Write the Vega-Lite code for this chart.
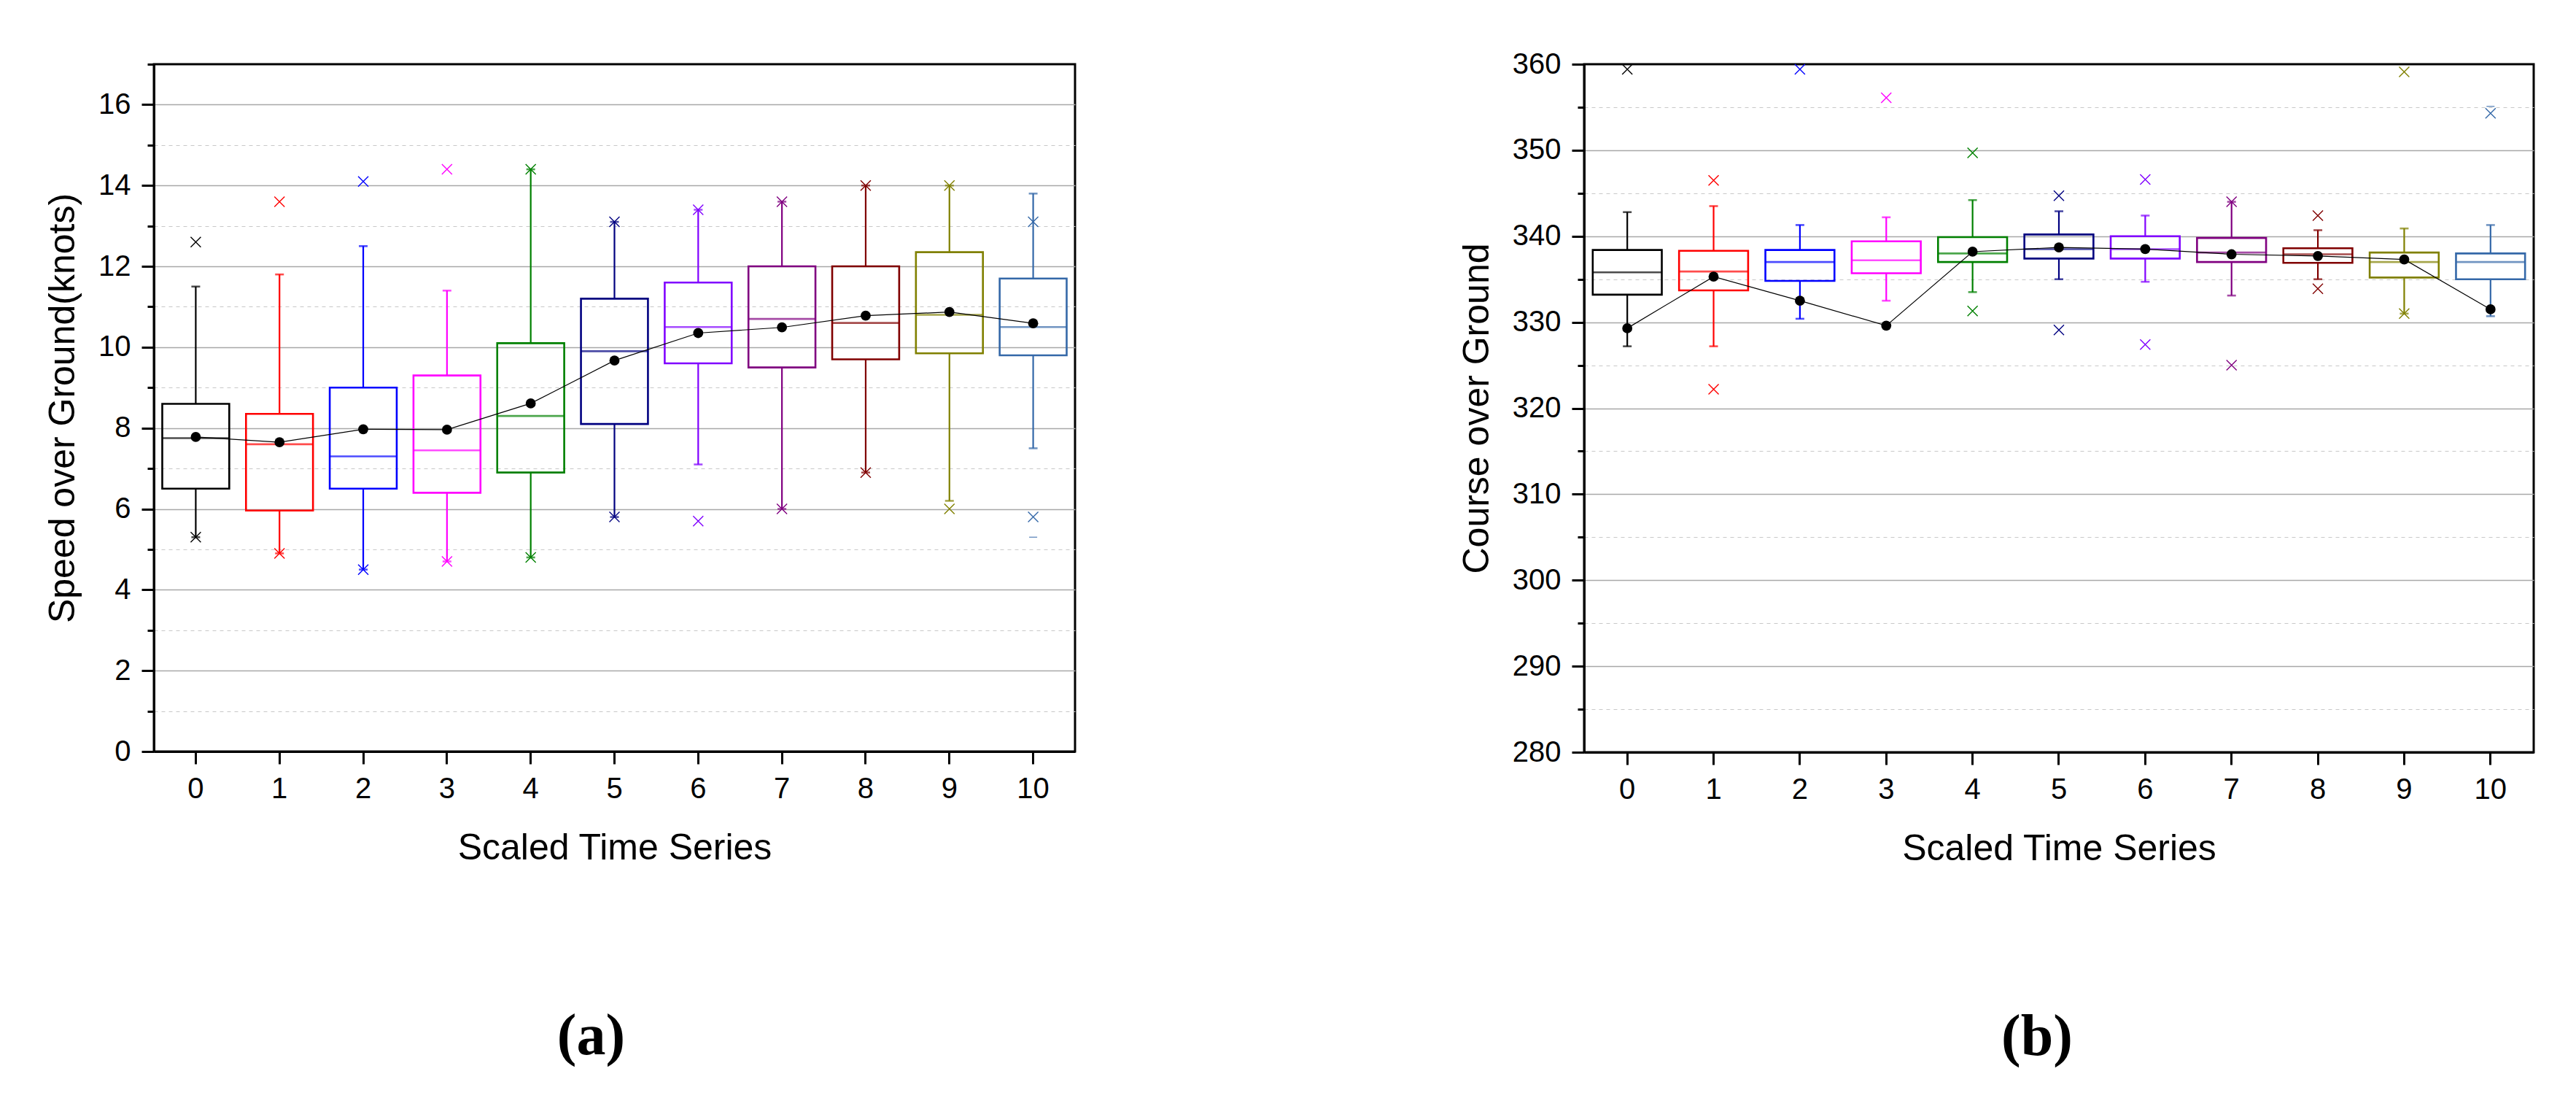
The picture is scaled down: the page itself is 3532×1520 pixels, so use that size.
{
  "$schema": "https://vega.github.io/schema/vega-lite/v6.json",
  "background": "white",
  "padding": {"left": 60, "top": 66, "right": 0, "bottom": 0},
  "spacing": 522,
  "datasets": {
    "speed": [
      {"cat": 0, "lo": 5.3, "q1": 6.5, "med": 7.75, "q3": 8.6, "hi": 11.5, "mean": 7.78},
      {"cat": 1, "lo": 4.9, "q1": 5.96, "med": 7.6, "q3": 8.35, "hi": 11.8, "mean": 7.65},
      {"cat": 2, "lo": 4.5, "q1": 6.5, "med": 7.3, "q3": 9.0, "hi": 12.5, "mean": 7.97},
      {"cat": 3, "lo": 4.7, "q1": 6.4, "med": 7.45, "q3": 9.3, "hi": 11.4, "mean": 7.96},
      {"cat": 4, "lo": 4.8, "q1": 6.9, "med": 8.3, "q3": 10.1, "hi": 14.4, "mean": 8.61},
      {"cat": 5, "lo": 5.8, "q1": 8.1, "med": 9.9, "q3": 11.2, "hi": 13.1, "mean": 9.67},
      {"cat": 6, "lo": 7.1, "q1": 9.6, "med": 10.5, "q3": 11.6, "hi": 13.4, "mean": 10.35},
      {"cat": 7, "lo": 6.0, "q1": 9.5, "med": 10.7, "q3": 12.0, "hi": 13.6, "mean": 10.49},
      {"cat": 8, "lo": 6.9, "q1": 9.7, "med": 10.6, "q3": 12.0, "hi": 14.0, "mean": 10.78},
      {"cat": 9, "lo": 6.2, "q1": 9.85, "med": 10.8, "q3": 12.35, "hi": 14.0, "mean": 10.87},
      {"cat": 10, "lo": 7.5, "q1": 9.8, "med": 10.5, "q3": 11.7, "hi": 13.8, "mean": 10.59}
    ],
    "speedOut": [
      {"cat": 0, "v": 12.6}, {"cat": 0, "v": 5.3},
      {"cat": 1, "v": 13.6}, {"cat": 1, "v": 4.9},
      {"cat": 2, "v": 14.1}, {"cat": 2, "v": 4.5},
      {"cat": 3, "v": 14.4}, {"cat": 3, "v": 4.7},
      {"cat": 4, "v": 14.4}, {"cat": 4, "v": 4.8},
      {"cat": 5, "v": 13.1}, {"cat": 5, "v": 5.8},
      {"cat": 6, "v": 13.4}, {"cat": 6, "v": 5.7},
      {"cat": 7, "v": 13.6}, {"cat": 7, "v": 6.0},
      {"cat": 8, "v": 14.0}, {"cat": 8, "v": 6.9},
      {"cat": 9, "v": 14.0}, {"cat": 9, "v": 6.0},
      {"cat": 10, "v": 13.1}, {"cat": 10, "v": 5.8}
    ],
    "speedDash": [{"cat": 10, "v": 5.3}],
    "course": [
      {"cat": 0, "lo": 327.2, "q1": 333.2, "med": 335.8, "q3": 338.4, "hi": 342.8, "mean": 329.3},
      {"cat": 1, "lo": 327.2, "q1": 333.7, "med": 335.9, "q3": 338.3, "hi": 343.5, "mean": 335.3},
      {"cat": 2, "lo": 330.4, "q1": 334.8, "med": 337.0, "q3": 338.4, "hi": 341.3, "mean": 332.5},
      {"cat": 3, "lo": 332.5, "q1": 335.7, "med": 337.2, "q3": 339.4, "hi": 342.2, "mean": 329.6},
      {"cat": 4, "lo": 333.5, "q1": 337.0, "med": 338.0, "q3": 339.9, "hi": 344.2, "mean": 338.2},
      {"cat": 5, "lo": 335.0, "q1": 337.4, "med": 338.5, "q3": 340.2, "hi": 342.9, "mean": 338.7},
      {"cat": 6, "lo": 334.7, "q1": 337.4, "med": 338.5, "q3": 340.0, "hi": 342.4, "mean": 338.5},
      {"cat": 7, "lo": 333.1, "q1": 337.0, "med": 338.1, "q3": 339.8, "hi": 344.0, "mean": 337.9},
      {"cat": 8, "lo": 335.0, "q1": 336.9, "med": 337.9, "q3": 338.6, "hi": 340.7, "mean": 337.7},
      {"cat": 9, "lo": 331.0, "q1": 335.2, "med": 337.0, "q3": 338.1, "hi": 340.9, "mean": 337.3},
      {"cat": 10, "lo": 330.7, "q1": 335.0, "med": 337.0, "q3": 338.0, "hi": 341.3, "mean": 331.5}
    ],
    "courseOut": [
      {"cat": 0, "v": 359.4},
      {"cat": 1, "v": 346.5}, {"cat": 1, "v": 322.2},
      {"cat": 2, "v": 359.4},
      {"cat": 3, "v": 356.1},
      {"cat": 4, "v": 349.7}, {"cat": 4, "v": 331.3},
      {"cat": 5, "v": 344.7}, {"cat": 5, "v": 329.1},
      {"cat": 6, "v": 346.6}, {"cat": 6, "v": 327.4},
      {"cat": 7, "v": 344.0}, {"cat": 7, "v": 325.0},
      {"cat": 8, "v": 342.4}, {"cat": 8, "v": 333.9},
      {"cat": 9, "v": 359.1}, {"cat": 9, "v": 331.0},
      {"cat": 10, "v": 354.3}
    ],
    "courseDash": [{"cat": 10, "v": 355.1}]
  },
  "config": {
    "font": "Liberation Sans",
    "view": {"stroke": "black", "strokeWidth": 3},
    "axis": {
      "domainColor": "black", "domainWidth": 3,
      "tickColor": "black", "tickWidth": 3,
      "labelFont": "Liberation Sans", "labelFontSize": 40, "labelColor": "black",
      "titleFont": "Liberation Sans", "titleFontSize": 50, "titleFontWeight": "normal", "titleColor": "black",
      "labelOverlap": false, "labelFlush": false
    }
  },
  "hconcat": [
    {
      "width": 1263, "height": 942,
      "title": {"text": "(a)", "orient": "bottom", "anchor": "middle", "offset": 195, "dx": -32, "font": "Liberation Serif", "fontSize": 80, "fontWeight": "bold", "color": "black"},
      "data": {"name": "speed"},
      "encoding": {
        "x": {"field": "cat", "type": "ordinal", "scale": {"paddingInner": 0, "paddingOuter": 0},
          "axis": {"title": "Scaled Time Series", "labelAngle": 0, "tickSize": 17, "labelPadding": 14, "titlePadding": 36, "grid": false}}
      },
      "layer": [
        {
          "mark": {"type": "bar", "width": {"band": 0.8}, "filled": false, "strokeWidth": 2.6},
          "encoding": {
            "y": {"field": "q1", "type": "quantitative", "title": "Speed over Ground(knots)", "scale": {"domain": [0, 17], "nice": false, "zero": false},
              "axis": {
                "title": "Speed over Ground(knots)",
                "values": [0,1,2,3,4,5,6,7,8,9,10,11,12,13,14,15,16,17],
                "labelExpr": "datum.value % 2 === 0 ? datum.label : ''",
                "tickSize": {"condition": {"test": "datum.value % 2 === 0", "value": 17}, "value": 9},
                "labelPadding": 15, "titlePadding": 23,
                "grid": true,
                "gridColor": {"condition": {"test": "datum.value % 2 === 0", "value": "#a8a8a8"}, "value": "#c8c8c8"},
                "gridDash": {"condition": {"test": "datum.value % 2 === 0", "value": []}, "value": [5, 5]},
                "gridWidth": {"condition": {"test": "datum.value % 2 === 0", "value": 1.6}, "value": 1},
                "gridOpacity": {"condition": {"test": "datum.value === 17 || datum.value === 0", "value": 0}, "value": 1}
              }},
            "y2": {"field": "q3"},
            "color": {"field": "cat", "type": "nominal", "legend": null,
              "scale": {"domain": [0,1,2,3,4,5,6,7,8,9,10], "range": ["#000000","#ff0000","#0000ff","#ff00ff","#008000","#000080","#8000ff","#800080","#800000","#808000","#3468a8"]}}
          }
        },
        {
          "mark": {"type": "rule", "strokeWidth": 2.2},
          "encoding": {"y": {"field": "q3", "type": "quantitative", "title": "Speed over Ground(knots)"}, "y2": {"field": "hi"}, "color": {"field": "cat", "type": "nominal", "legend": null}}
        },
        {
          "mark": {"type": "rule", "strokeWidth": 2.2},
          "encoding": {"y": {"field": "lo", "type": "quantitative", "title": "Speed over Ground(knots)"}, "y2": {"field": "q1"}, "color": {"field": "cat", "type": "nominal", "legend": null}}
        },
        {
          "mark": {"type": "tick", "size": 92, "thickness": 2.6},
          "encoding": {"y": {"field": "med", "type": "quantitative", "title": "Speed over Ground(knots)"}, "color": {"field": "cat", "type": "nominal", "legend": null}}
        },
        {
          "mark": {"type": "tick", "size": 12, "thickness": 2.6},
          "encoding": {"y": {"field": "hi", "type": "quantitative", "title": "Speed over Ground(knots)"}, "color": {"field": "cat", "type": "nominal", "legend": null}}
        },
        {
          "mark": {"type": "tick", "size": 12, "thickness": 2.6},
          "encoding": {"y": {"field": "lo", "type": "quantitative", "title": "Speed over Ground(knots)"}, "color": {"field": "cat", "type": "nominal", "legend": null}}
        },
        {
          "data": {"name": "speedDash"},
          "mark": {"type": "tick", "size": 11, "thickness": 1.5},
          "encoding": {"y": {"field": "v", "type": "quantitative", "title": "Speed over Ground(knots)"}, "color": {"field": "cat", "type": "nominal", "legend": null}}
        },
        {
          "mark": {"type": "line", "color": "black", "strokeWidth": 1.2},
          "encoding": {"y": {"field": "mean", "type": "quantitative", "title": "Speed over Ground(knots)"}}
        },
        {
          "mark": {"type": "point", "filled": true, "color": "black", "size": 190, "opacity": 1, "shape": "circle"},
          "encoding": {"y": {"field": "mean", "type": "quantitative", "title": "Speed over Ground(knots)"}}
        },
        {
          "data": {"name": "speedOut"},
          "mark": {"type": "point", "filled": false, "shape": "M-1,-1L1,1M-1,1L1,-1", "size": 196, "strokeWidth": 1.4, "opacity": 1},
          "encoding": {"y": {"field": "v", "type": "quantitative", "title": "Speed over Ground(knots)"}, "color": {"field": "cat", "type": "nominal", "legend": null}}
        }
      ]
    },
    {
      "width": 1302, "height": 943,
      "title": {"text": "(b)", "orient": "bottom", "anchor": "middle", "offset": 195, "dx": -30, "font": "Liberation Serif", "fontSize": 80, "fontWeight": "bold", "color": "black"},
      "data": {"name": "course"},
      "encoding": {
        "x": {"field": "cat", "type": "ordinal", "scale": {"paddingInner": 0, "paddingOuter": 0},
          "axis": {"title": "Scaled Time Series", "labelAngle": 0, "tickSize": 17, "labelPadding": 14, "titlePadding": 36, "grid": false}}
      },
      "layer": [
        {
          "mark": {"type": "bar", "width": {"band": 0.8}, "filled": false, "strokeWidth": 2.6},
          "encoding": {
            "y": {"field": "q1", "type": "quantitative", "title": "Course over Ground", "scale": {"domain": [280, 360], "nice": false, "zero": false},
              "axis": {
                "title": "Course over Ground",
                "values": [280,285,290,295,300,305,310,315,320,325,330,335,340,345,350,355,360],
                "labelExpr": "datum.value % 10 === 0 ? datum.label : ''",
                "tickSize": {"condition": {"test": "datum.value % 10 === 0", "value": 17}, "value": 9},
                "labelPadding": 15, "titlePadding": 23,
                "grid": true,
                "gridColor": {"condition": {"test": "datum.value % 10 === 0", "value": "#a8a8a8"}, "value": "#c8c8c8"},
                "gridDash": {"condition": {"test": "datum.value % 10 === 0", "value": []}, "value": [5, 5]},
                "gridWidth": {"condition": {"test": "datum.value % 10 === 0", "value": 1.6}, "value": 1},
                "gridOpacity": {"condition": {"test": "datum.value === 360 || datum.value === 280", "value": 0}, "value": 1}
              }},
            "y2": {"field": "q3"},
            "color": {"field": "cat", "type": "nominal", "legend": null,
              "scale": {"domain": [0,1,2,3,4,5,6,7,8,9,10], "range": ["#000000","#ff0000","#0000ff","#ff00ff","#008000","#000080","#8000ff","#800080","#800000","#808000","#3468a8"]}}
          }
        },
        {
          "mark": {"type": "rule", "strokeWidth": 2.2},
          "encoding": {"y": {"field": "q3", "type": "quantitative", "title": "Course over Ground"}, "y2": {"field": "hi"}, "color": {"field": "cat", "type": "nominal", "legend": null}}
        },
        {
          "mark": {"type": "rule", "strokeWidth": 2.2},
          "encoding": {"y": {"field": "lo", "type": "quantitative", "title": "Course over Ground"}, "y2": {"field": "q1"}, "color": {"field": "cat", "type": "nominal", "legend": null}}
        },
        {
          "mark": {"type": "tick", "size": 95, "thickness": 2.6},
          "encoding": {"y": {"field": "med", "type": "quantitative", "title": "Course over Ground"}, "color": {"field": "cat", "type": "nominal", "legend": null}}
        },
        {
          "mark": {"type": "tick", "size": 12, "thickness": 2.6},
          "encoding": {"y": {"field": "hi", "type": "quantitative", "title": "Course over Ground"}, "color": {"field": "cat", "type": "nominal", "legend": null}}
        },
        {
          "mark": {"type": "tick", "size": 12, "thickness": 2.6},
          "encoding": {"y": {"field": "lo", "type": "quantitative", "title": "Course over Ground"}, "color": {"field": "cat", "type": "nominal", "legend": null}}
        },
        {
          "data": {"name": "courseDash"},
          "mark": {"type": "tick", "size": 11, "thickness": 1.5},
          "encoding": {"y": {"field": "v", "type": "quantitative", "title": "Course over Ground"}, "color": {"field": "cat", "type": "nominal", "legend": null}}
        },
        {
          "mark": {"type": "line", "color": "black", "strokeWidth": 1.2},
          "encoding": {"y": {"field": "mean", "type": "quantitative", "title": "Course over Ground"}}
        },
        {
          "mark": {"type": "point", "filled": true, "color": "black", "size": 190, "opacity": 1, "shape": "circle"},
          "encoding": {"y": {"field": "mean", "type": "quantitative", "title": "Course over Ground"}}
        },
        {
          "data": {"name": "courseOut"},
          "mark": {"type": "point", "filled": false, "shape": "M-1,-1L1,1M-1,1L1,-1", "size": 196, "strokeWidth": 1.4, "opacity": 1},
          "encoding": {"y": {"field": "v", "type": "quantitative", "title": "Course over Ground"}, "color": {"field": "cat", "type": "nominal", "legend": null}}
        }
      ]
    }
  ]
}
